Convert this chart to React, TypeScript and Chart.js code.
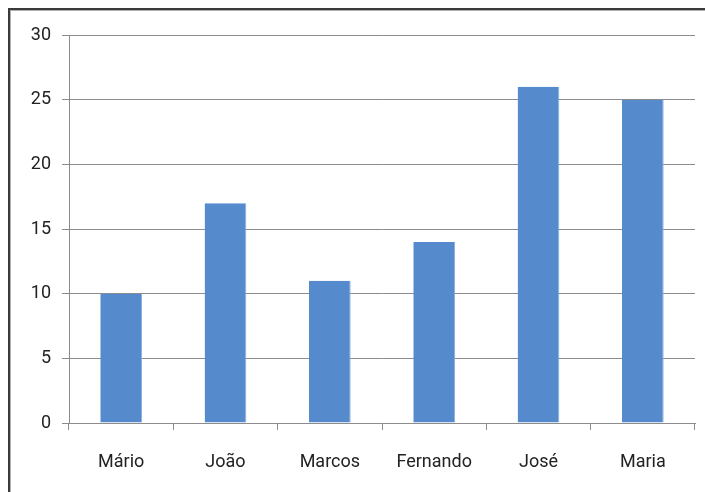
import React, { useEffect, useRef } from "react";
import { Chart, registerables } from "chart.js";

Chart.register(...registerables);

const categories = ["Mário", "João", "Marcos", "Fernando", "José", "Maria"];
const values = [10, 17, 11, 14, 26, 25];
const yMin = 0;
const yMax = 30;
const yStep = 5;

const frame = {
  id: "frame",
  afterDraw(chart: any) {
    const ctx = chart.ctx;
    const w = chart.width;
    const h = chart.height;
    ctx.save();
    ctx.fillStyle = "#3a3a3a";
    ctx.fillRect(8, 8, w - 8, 2);
    ctx.fillRect(8, 8, 2, h - 8);
    ctx.fillStyle = "#b0b0b0";
    ctx.fillRect(10, 10, w - 10, 1);
    ctx.fillRect(10, 10, 1, h - 10);
    ctx.restore();
  },
};

export default function App() {
  const ref = useRef<HTMLCanvasElement>(null);
  useEffect(() => {
    const font = { family: "Roboto", size: 18 };
    const chart = new Chart(ref.current as HTMLCanvasElement, {
      type: "bar",
      data: {
        labels: categories,
        datasets: [
          {
            data: values,
            backgroundColor: "#558acd",
            borderColor: "#8db2e2",
            borderWidth: { left: 0, right: 1, top: 0, bottom: 0 },
            borderSkipped: false,
            barPercentage: 0.8,
            categoryPercentage: 0.5,
          },
        ],
      },
      options: {
        animation: false,
        responsive: false,
        layout: { padding: { top: 35, right: 10, left: 0, bottom: 0 } },
        plugins: {
          legend: { display: false },
          tooltip: { enabled: false },
        },
        scales: {
          x: {
            offset: true,
            grid: {
              offset: true,
              drawOnChartArea: false,
              drawTicks: true,
              tickLength: 7,
              color: "#8c8c8c",
            },
            border: { color: "#8c8c8c" },
            ticks: { color: "#222", font, padding: 22, maxRotation: 0 },
            afterFit(scale: any) {
              scale.height = 69;
            },
          },
          y: {
            min: yMin,
            max: yMax,
            ticks: { stepSize: yStep, color: "#222", font, padding: 11 },
            grid: { color: "#8c8c8c", tickLength: 7 },
            border: { color: "#8c8c8c" },
            afterFit(scale: any) {
              scale.width = 69;
            },
          },
        },
      },
      plugins: [frame],
    });
    return () => chart.destroy();
  }, []);
  return (
    <div style={{ position: "fixed", left: 0, top: 0, width: 705, height: 492, background: "#fff" }}>
      <canvas ref={ref} width={705} height={492} style={{ display: "block" }} />
    </div>
  );
}
